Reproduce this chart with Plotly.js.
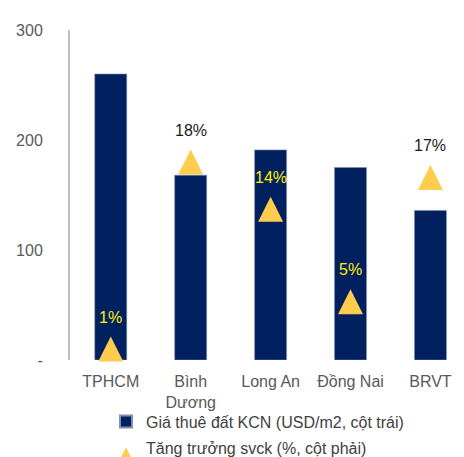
<!DOCTYPE html>
<html>
<head>
<meta charset="utf-8">
<script src="https://cdn.plot.ly/plotly-3.0.1.min.js"></script>
<style>html,body{margin:0;padding:0;background:#fff;}#chart{width:464px;height:457px;}</style>
</head>
<body>
<div id="chart"></div>
<script>
const categories = ["TPHCM", "Bình<br>Dương", "Long An", "Đồng Nai", "BRVT"];
const rentPrice = [260, 168, 191, 175, 136];
const growthPct = [1.0, 18.0, 13.7, 5.3, 16.6];
const growthLabels = ["1%", "18%", "14%", "5%", "17%"];
const labelColors = ["#FFF200", "#1a1a1a", "#FFF200", "#FFF200", "#1a1a1a"];
const yTickVals = [0, 100, 200, 300];
const yTickText = ["-", "100", "200", "300"];

const FONT = "Liberation Sans, Arial, sans-serif";
const TRI = "#FFCC4D";

const traces = [
  {
    type: "bar",
    x: categories,
    y: rentPrice,
    name: "Giá thuê đất KCN (USD/m2, cột trái)",
    legendgroup: "a",
    width: 0.4,
    marker: {color: "#002060", line: {color: "#7f8fb0", width: 0.6}},
    hoverinfo: "none"
  },
  {
    type: "scatter",
    mode: "markers",
    x: categories,
    y: growthPct,
    yaxis: "y2",
    name: "Tăng trưởng svck (%, cột phải)",
    legendgroup: "b",
    marker: {symbol: "arrow-up", size: 25, color: TRI, line: {color: TRI, width: 0}},
    cliponaxis: false,
    hoverinfo: "none"
  }
];

// Triangle apex sits at the point; shift hidden right axis so the triangle's middle marks the value
const TRI_HALF_PX = 12.5;
const PLOT_H = 330;
const Y2_MAX = 30;
const y2Shift = TRI_HALF_PX * Y2_MAX / PLOT_H;

const annotations = growthPct.map((v, i) => ({
  x: categories[i],
  y: v,
  xref: "x",
  yref: "y2",
  text: growthLabels[i],
  showarrow: false,
  yanchor: "middle",
  yshift: 19.5,
  font: {family: FONT, size: 16, color: labelColors[i]}
}));

const layout = {
  width: 464,
  height: 457,
  margin: {l: 70, r: 0, t: 30, b: 97, autoexpand: false},
  paper_bgcolor: "#ffffff",
  plot_bgcolor: "#ffffff",
  font: {family: FONT, size: 16, color: "#595959"},
  showlegend: true,
  legend: {
    orientation: "v",
    x: (106 - 70) / (464 - 70),
    y: -0.135, yanchor: "top",
    font: {family: FONT, size: 16, color: "#404040"},
    itemsizing: "constant",
    tracegroupgap: 2,
    traceorder: "grouped",
    bgcolor: "rgba(0,0,0,0)"
  },
  annotations: annotations,
  xaxis: {
    type: "category",
    range: [-0.51, 4.42],
    showline: false,
    showgrid: false,
    zeroline: false,
    ticks: "",
    ticklabelstandoff: 10,
    tickfont: {family: FONT, size: 16, color: "#595959"},
    fixedrange: true
  },
  yaxis: {
    range: [0, 300],
    tickvals: yTickVals,
    ticktext: yTickText,
    showgrid: false,
    zeroline: false,
    showline: true,
    linecolor: "#bfbfbf",
    linewidth: 2,
    ticks: "",
    ticklabelstandoff: 22,
    tickfont: {family: FONT, size: 16, color: "#595959"},
    fixedrange: true
  },
  yaxis2: {
    range: [-y2Shift, Y2_MAX - y2Shift],
    overlaying: "y",
    side: "right",
    visible: false,
    fixedrange: true
  }
};

Plotly.newPlot("chart", traces, layout, {displayModeBar: false, staticPlot: true});
</script>
</body>
</html>
